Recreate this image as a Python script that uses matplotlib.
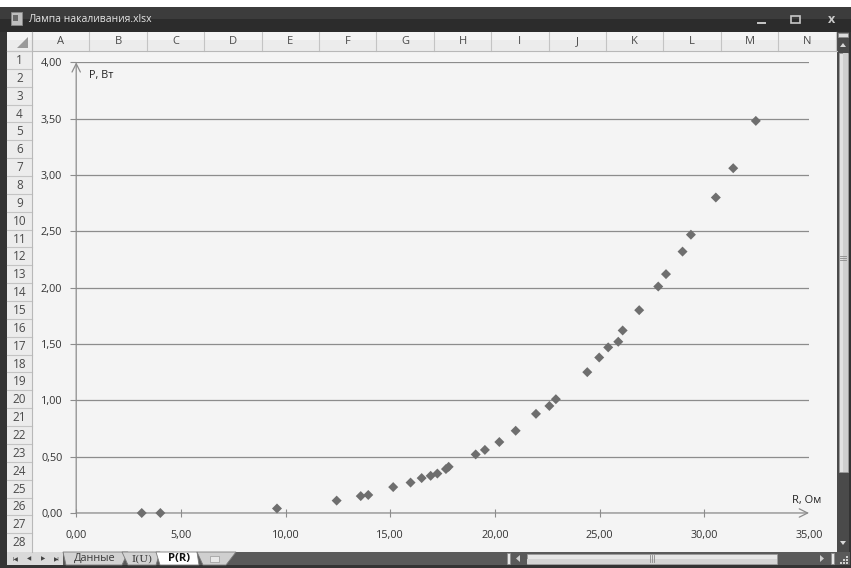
"""
P(R) chart of an incandescent lamp, drawn as the Excel window it was captured in.
"""

import matplotlib
matplotlib.use("Agg")
import matplotlib.pyplot as plt
from matplotlib.patches import Rectangle, Polygon, FancyBboxPatch

# measured points: resistance (Ohm) and power (W)
resistance = [3.13, 4.02, 9.59, 12.44, 13.59, 13.95, 15.14, 15.97, 16.50, 16.93,
              17.25, 17.66, 17.79, 19.08, 19.52, 20.21, 20.99, 21.96, 22.60, 22.91,
              24.41, 24.98, 25.41, 25.89, 26.10, 26.89, 27.80, 28.17, 28.96, 29.36,
              30.55, 31.38, 32.46]
power = [0.00, 0.00, 0.04, 0.11, 0.15, 0.16, 0.23, 0.27, 0.31, 0.33,
         0.35, 0.39, 0.41, 0.52, 0.56, 0.63, 0.73, 0.88, 0.95, 1.01,
         1.25, 1.38, 1.47, 1.52, 1.62, 1.80, 2.01, 2.12, 2.32, 2.47,
         2.80, 3.06, 3.48]

x_ticks = [0, 5, 10, 15, 20, 25, 30, 35]
y_ticks = [0, 0.5, 1.0, 1.5, 2.0, 2.5, 3.0, 3.5, 4.0]

window_title = "Лампа накаливания.xlsx"
columns = ["A", "B", "C", "D", "E", "F", "G", "H", "I", "J", "K", "L", "M", "N"]
rows = list(range(1, 29))
sheet_tabs = ["Данные", "I(U)", "P(R)"]

W, H = 851, 568
FONT = "Open Sans"

fig = plt.figure(figsize=(W / 100, H / 100), dpi=100)
fig.patch.set_facecolor("white")

# ---- window chrome, in pixel coordinates ----
bg = fig.add_axes([0, 0, 1, 1])
bg.set_xlim(0, W)
bg.set_ylim(H, 0)
bg.axis("off")

bg.add_patch(FancyBboxPatch((0, 7), W, H, boxstyle="round,pad=0,rounding_size=6",
                            fc="#343434", ec="none"))
bg.add_patch(Rectangle((0, 7), W, 12, fc="#3c3c3c", ec="none"))
bg.add_patch(Rectangle((0, 19), W, 13, fc="#2c2c2c", ec="none"))

# icon + title
bg.add_patch(Rectangle((11, 12), 11, 13, fc="#bfbfbf", ec="#8a8a8a", lw=0.6))
bg.add_patch(Rectangle((13, 15), 5, 6, fc="#6a6a6a", ec="none"))
bg.text(28, 19.5, window_title, color="#e6e6e6", fontsize=7.5, family=FONT,
        va="center", ha="left")
bg.plot([758, 765], [23, 23], color="#c8c8c8", lw=1.4)
bg.add_patch(Rectangle((791, 16), 9, 7, fc="none", ec="#c8c8c8", lw=1.2))
bg.text(832, 19.5, "x", color="#c8c8c8", fontsize=9, family=FONT,
        va="center", ha="center", fontweight="bold")

# column header
col_left, col_w = 32.0, 57.4
bg.add_patch(Rectangle((7, 32), 830, 19, fc="#ececec", ec="none"))
bg.add_patch(Rectangle((7, 32), 830, 8, fc="#f4f4f4", ec="none"))
for i, name in enumerate(columns):
    x0 = col_left + i * col_w
    bg.plot([x0, x0], [32, 51], color="#c4c4c4", lw=0.8)
    bg.text(x0 + col_w / 2, 42, name, color="#4a4a4a", fontsize=8, family=FONT,
            ha="center", va="center")
bg.plot([836, 836], [32, 51], color="#c4c4c4", lw=0.8)
bg.plot([7, 837], [51, 51], color="#b8b8b8", lw=0.8)
bg.add_patch(Polygon([[28, 37], [28, 48], [17, 48]], fc="#9a9a9a", ec="none"))

# row header
row_top, row_h = 51.0, 17.86
bg.add_patch(Rectangle((7, 51), 25, 501, fc="#ececec", ec="none"))
for r in rows:
    y0 = row_top + (r - 1) * row_h
    bg.plot([7, 32], [y0, y0], color="#c4c4c4", lw=0.8)
    bg.text(19.5, y0 + row_h / 2 + 0.5, str(r), color="#4a4a4a", fontsize=8.5,
            family=FONT, ha="center", va="center")
bg.plot([32, 32], [32, 552], color="#b8b8b8", lw=0.8)

# chart area covering the sheet
bg.add_patch(Rectangle((32.5, 51.5), 804, 500.5, fc="#f4f4f4", ec="none"))

# vertical scrollbar
bg.add_patch(Rectangle((837, 32), 12, 520, fc="#4a4a4a", ec="none"))
bg.add_patch(Rectangle((838, 32.5), 10, 4, fc="#dcdcdc", ec="#8a8a8a", lw=0.5))
bg.add_patch(Polygon([[840, 47], [846, 47], [843, 43]], fc="#d8d8d8", ec="none"))
bg.add_patch(Rectangle((838.5, 53), 9, 419, fc="#e2e2e2", ec="#9a9a9a", lw=0.5))
bg.add_patch(Rectangle((843, 53), 4.5, 419, fc="#cfcfcf", ec="none"))
for yy in (256, 258, 260):
    bg.plot([840, 846], [yy, yy], color="#8a8a8a", lw=0.6)
bg.add_patch(Polygon([[840, 541], [846, 541], [843, 545]], fc="#d8d8d8", ec="none"))

# sheet tabs and horizontal scrollbar
bg.add_patch(Rectangle((7, 552), 843, 13, fc="#5a5a5a", ec="none"))
bg.add_patch(Rectangle((7, 552), 56, 13, fc="#dadada", ec="none"))
for x, glyph in zip([15, 29, 43, 57], ["I◀", "◀", "▶", "▶I"]):
    bg.text(x, 558.5, glyph, color="#444444", fontsize=4, ha="center", va="center")

tab_shapes = [
    [[63, 552], [128, 552], [122, 565], [66, 565]],
    [[122, 552], [160, 552], [156, 565], [128, 565]],
    [[156, 552], [197, 552], [199, 565], [160, 565]],
    [[197, 552], [236, 552], [226, 565], [203, 565]],
]
tab_colors = ["#d2d2d2", "#d2d2d2", "#ffffff", "#cfcfcf"]
for shape, color in zip(tab_shapes, tab_colors):
    bg.add_patch(Polygon(shape, closed=True, fc=color, ec="#7a7a7a", lw=0.6))
bg.text(95, 558.8, sheet_tabs[0], color="#3a3a3a", fontsize=7.8, family=FONT,
        ha="center", va="center")
bg.text(142, 558.8, sheet_tabs[1], color="#3a3a3a", fontsize=7.5, family="DejaVu Serif",
        ha="center", va="center")
bg.text(179, 558.8, sheet_tabs[2], color="#111111", fontsize=8, family=FONT,
        ha="center", va="center", fontweight="bold")
bg.add_patch(Rectangle((210, 555.5), 9, 6, fc="#e8e8e8", ec="#9a9a9a", lw=0.5))

bg.add_patch(Rectangle((507, 553), 3, 11, fc="#e8e8e8", ec="#8a8a8a", lw=0.5))
bg.add_patch(Polygon([[520, 555], [520, 562], [516, 558.5]], fc="#cfcfcf", ec="none"))
bg.add_patch(Rectangle((527, 553.5), 250, 10, fc="#e6e6e6", ec="#9a9a9a", lw=0.5))
bg.add_patch(Rectangle((527, 558.5), 250, 5, fc="#d4d4d4", ec="none"))
for xx in (650, 652, 654):
    bg.plot([xx, xx], [555, 562], color="#8a8a8a", lw=0.6)
bg.add_patch(Polygon([[820, 555], [820, 562], [824, 558.5]], fc="#cfcfcf", ec="none"))
bg.add_patch(Rectangle((831, 553), 3, 11, fc="#e8e8e8", ec="#8a8a8a", lw=0.5))
for gx, gy in [(846, 556), (843, 559), (846, 559), (840, 562), (843, 562), (846, 562)]:
    bg.add_patch(Rectangle((gx, gy), 1.5, 1.5, fc="#d0d0d0", ec="none"))

# ---- the chart itself ----
left, right, top, bottom = 76.2, 809.0, 62.3, 513.0
ax = fig.add_axes([left / W, 1 - bottom / H, (right - left) / W, (bottom - top) / H])
ax.set_facecolor("none")
ax.set_xlim(0, 35)
ax.set_ylim(0, 4)

for s in ax.spines.values():
    s.set_visible(False)

ax.set_yticks(y_ticks)
ax.set_xticks(x_ticks)
ax.set_yticklabels([f"{v:.2f}".replace(".", ",") for v in y_ticks])
ax.set_xticklabels([f"{v:.2f}".replace(".", ",") for v in x_ticks])
ax.tick_params(axis="y", direction="out", length=4, width=0.8, color="#8c8c8c",
               pad=6, labelsize=7.8, labelcolor="#333333")
ax.tick_params(axis="x", direction="inout", length=6, width=0.8, color="#8c8c8c",
               pad=9, labelsize=7.8, labelcolor="#333333")
for lab in ax.get_xticklabels() + ax.get_yticklabels():
    lab.set_family(FONT)
# the arrow head sits where the last x tick would be
ax.xaxis.get_major_ticks()[-1].tick1line.set_visible(False)

ax.grid(axis="y", color="#8c8c8c", lw=0.9)
ax.set_axisbelow(True)

arrow = dict(arrowstyle="->,head_length=0.6,head_width=0.3", color="#8c8c8c",
             lw=0.9, shrinkA=0, shrinkB=0)
ax.annotate("", xy=(0, 4), xytext=(0, 0), arrowprops=arrow, annotation_clip=False)
ax.annotate("", xy=(35, 0), xytext=(0, 0), arrowprops=arrow, annotation_clip=False)

ax.scatter(resistance, power, marker="D", s=26, color="#6e6e6e", edgecolors="none",
           zorder=3, clip_on=False)

ax.text(0.6, 3.88, "P, Вт", fontsize=7.8, family=FONT, color="#222222",
        ha="left", va="center")
ax.text(35.6, 0.11, "R, Ом", fontsize=8, family=FONT, color="#222222",
        ha="right", va="center")

fig.savefig("out.png", dpi=100)
